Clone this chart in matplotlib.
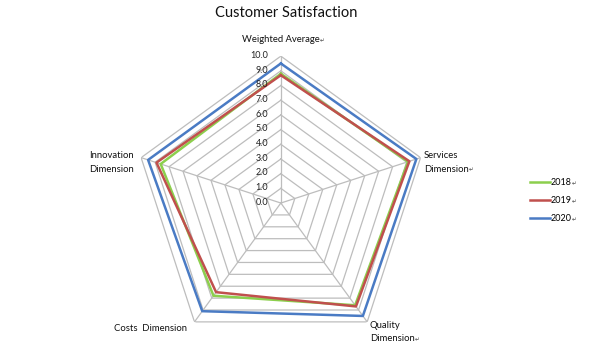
import numpy as np
import matplotlib
matplotlib.use("Agg")
import matplotlib.pyplot as plt
from matplotlib.text import Annotation

plt.rcParams['font.family'] = ['Lato', 'DejaVu Sans']

categories = ["Weighted Average", "Services\nDimension", "Quality\nDimension",
              "Costs  Dimension", "Innovation\nDimension"]
series_names = ["2018", "2019", "2020"]
v2018 = [8.8, 9.1, 8.6, 7.8, 8.6]
v2019 = [8.7, 9.2, 8.7, 7.5, 8.9]
v2020 = [9.5, 9.7, 9.5, 9.1, 9.5]
tick_values = [0, 1, 2, 3, 4, 5, 6, 7, 8, 9, 10]
colors = ["#8ccf4d", "#c0504d", "#4a7bc4"]

fig = plt.figure(figsize=(5.9, 3.52), dpi=100)
ax = fig.add_axes([0.227, 0.0057, 0.498, 0.835], projection='polar')
ax.set_theta_offset(np.pi / 2)
ax.set_theta_direction(-1)
ax.set_ylim(0, 10)
ax.grid(False)
ax.spines['polar'].set_visible(False)
ax.set_xticks([])
ax.set_yticks([])
ax.patch.set_alpha(0)

n = len(categories)
angles = np.linspace(0, 2 * np.pi, n, endpoint=False)
ang_c = np.concatenate([angles, angles[:1]])

grid_c = "#bdbdbd"
for r in tick_values[1:]:
    ax.plot(ang_c, [r] * (n + 1), color=grid_c, lw=0.9, zorder=1)
for a in angles:
    ax.plot([a, a], [0, 10], color=grid_c, lw=0.9, zorder=1)

for name, vals, c in zip(series_names, [v2018, v2019, v2020], colors):
    vv = list(vals) + [vals[0]]
    ax.plot(ang_c, vv, color=c, lw=1.8, label=name, zorder=3)

for r in tick_values:
    ax.annotate(f"{r:.1f}", xy=(0, r), xytext=(-9, 0.5), textcoords='offset points',
                ha='right', va='center', fontsize=6.5, color='#222222')

offsets = [(0, 12), (2.5, -3.5), (2, -7.5), (-5.5, -5), (-5, -3.5)]
has = ['center', 'left', 'left', 'right', 'right']
for lab, a, off, ha in zip(categories, angles, offsets, has):
    t = ax.annotate(lab, xy=(a, 10), xytext=off, textcoords='offset points',
                    ha=ha, va='center', fontsize=6.8, color='#111111',
                    multialignment='left', linespacing=1.6, annotation_clip=False)
    if "Costs" not in lab and "Innovation" not in lab:
        ax.annotate("↵", xy=(1.0, 0.05), xycoords=t, fontsize=4, va='bottom',
                    ha='left', color='#444444', annotation_clip=False)

fig.text(0.485, 0.963, "Customer Satisfaction", ha='center', va='center',
         fontsize=10.5, color='#111111')

leg = fig.legend(loc='center left', bbox_to_anchor=(0.885, 0.43), frameon=False,
                 fontsize=6.5, handlelength=2.2, labelspacing=1.0, handletextpad=0.1)
for t in leg.get_texts():
    mark = Annotation("↵", xy=(1.0, 0.1), xycoords=t, fontsize=4, va='bottom',
                      ha='left', color='#444444', annotation_clip=False)
    mark.set_zorder(20)
    fig.add_artist(mark)

fig.savefig("out.png", dpi=100)
